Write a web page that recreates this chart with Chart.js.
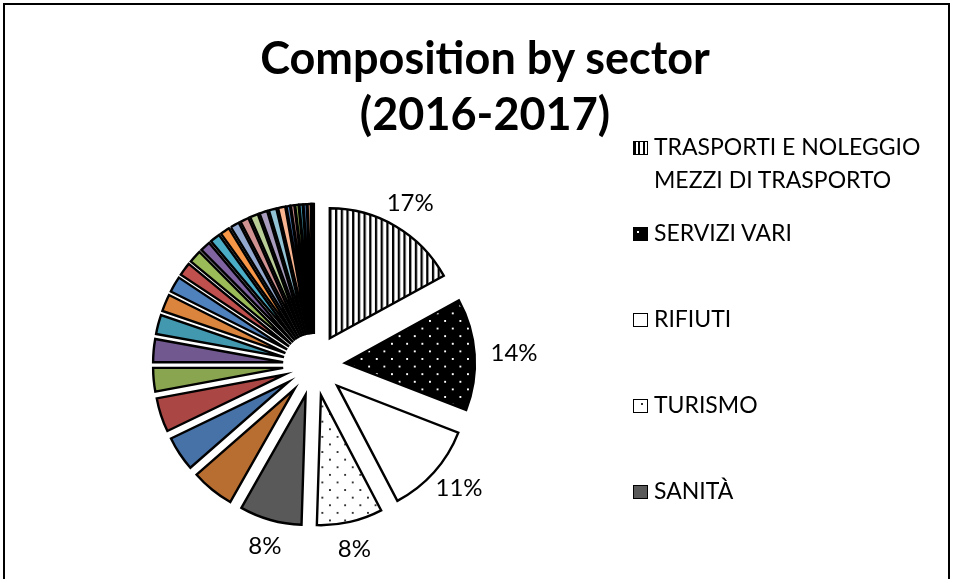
<!DOCTYPE html>
<html>
<head>
<meta charset="utf-8">
<script src="https://cdn.jsdelivr.net/npm/chart.js@4/dist/chart.umd.min.js"></script>
<style>
  html, body { margin: 0; padding: 0; background: #fff; }
  #wrap { position: relative; width: 953px; height: 579px; overflow: hidden; }
  #frame { position: absolute; left: 3px; top: 3px; width: 947px; height: 640px; border: 2px solid #000; box-sizing: border-box; }
  #chart { position: absolute; left: 0; top: 0; }
  #title { position: absolute; left: 0; top: 29px; width: 970px; text-align: center;
           font-family: Lato, "Open Sans", sans-serif; font-weight: bold; font-size: 45px; line-height: 56px; color: #000; }
  #legend { position: absolute; left: 633px; top: 130px; width: 300px;
            font-family: Lato, "Open Sans", sans-serif; font-size: 23px; line-height: 33px; color: #000; }
  .item { position: relative; padding-left: 21px; }
  .item + .item { margin-top: 53px; }
  .item:nth-child(2) { margin-top: 20px; }
  .box { position: absolute; left: 0; top: 11px; width: 15px; height: 14px; border: 1.5px solid #000; box-sizing: border-box; }
</style>
</head>
<body>
<div id="wrap">
  <canvas id="chart" width="953" height="579"></canvas>
  <div id="frame"></div>
  <div id="title"></div>
  <div id="legend"></div>
</div>
<script>
// ---- data ----
const categories = ['TRASPORTI E NOLEGGIO MEZZI DI TRASPORTO', 'SERVIZI VARI', 'RIFIUTI', 'TURISMO', 'SANITÀ'];
const shares = [17.0, 13.89, 11.44, 8.17, 7.72];
// remaining (unnamed) sectors, clockwise after SANITÀ
const otherShares = [5.33, 4.31, 4.22, 2.92, 2.86, 2.39, 2.11, 1.97, 1.64, 1.58, 1.28, 1.25, 1.17,
                     1.11, 1.06, 1.00, 0.97, 0.94, 0.89,
                     0.44, 0.43, 0.42, 0.41, 0.40, 0.40, 0.15, 0.13];
const titleLines = ['Composition by sector', '(2016-2017)'];

const values = shares.concat(otherShares);
const labels = categories.concat(otherShares.map(() => ''));

// ---- styles ----
const EXPLODE = 31;
const RADIUS = 130;
function makePattern(w, h, drawFn, scale) {
  const c = document.createElement('canvas');
  c.width = w; c.height = h;
  const g = c.getContext('2d');
  drawFn(g);
  const p = document.getElementById('chart').getContext('2d').createPattern(c, 'repeat');
  if (scale && p.setTransform) p.setTransform(new DOMMatrix().scale(scale));
  return p;
}
const stripes = makePattern(6, 6, g => {
  g.fillStyle = '#fff'; g.fillRect(0, 0, 6, 6);
  g.fillStyle = '#000'; g.fillRect(0, 0, 2.4, 6);
}, 0.95);
const darkDots = makePattern(16, 16, g => {
  g.fillStyle = '#000'; g.fillRect(0, 0, 16, 16);
  g.fillStyle = '#fff';
  g.fillRect(3, 3, 2, 2); g.fillRect(11, 11, 2, 2);
}, 0.95);
const lightDots = makePattern(16, 16, g => {
  g.fillStyle = '#fff'; g.fillRect(0, 0, 16, 16);
  g.fillStyle = '#333';
  g.fillRect(3, 3, 2, 2); g.fillRect(11, 11, 2, 2);
}, 0.95);

const mainFills = [stripes, darkDots, '#FFFFFF', lightDots, '#595959'];
const otherFills = ['#B86E31', '#4672A7', '#AA4744', '#89A54F', '#71588F', '#4298AF', '#DA843E',
                    '#4F81BD', '#C0504D', '#9BBB59', '#8064A2', '#4BACC6', '#F79646',
                    '#93A9CF', '#D19392', '#B9CD96', '#A99BBD', '#91C3D5', '#F9B590',
                    '#4F81BD', '#D19392', '#9BBB59', '#4BACC6', '#4F81BD', '#F9B590',
                    '#93A9CF', '#C0504D'];
const fills = mainFills.concat(otherFills);

// exploded slices: translate every arc outward along its bisector
const baseArcDraw = Chart.ArcElement.prototype.draw;
Chart.ArcElement.prototype.draw = function (ctx) {
  const mid = (this.startAngle + this.endAngle) / 2;
  ctx.save();
  ctx.translate(Math.cos(mid) * EXPLODE, Math.sin(mid) * EXPLODE);
  baseArcDraw.call(this, ctx);
  ctx.restore();
};

const pctLabels = {
  id: 'pctLabels',
  afterDatasetsDraw(chart) {
    const meta = chart.getDatasetMeta(0);
    const ctx = chart.ctx;
    const total = values.reduce((a, b) => a + b, 0);
    ctx.save();
    ctx.font = '24px Lato, "Open Sans", sans-serif';
    ctx.fillStyle = '#000';
    ctx.textAlign = 'center';
    ctx.textBaseline = 'middle';
    for (let i = 0; i < categories.length; i++) {
      const arc = meta.data[i];
      const mid = (arc.startAngle + arc.endAngle) / 2;
      const txt = Math.round(values[i] / total * 100) + '%';
      const w = ctx.measureText(txt).width;
      const h = 24;
      const ux = Math.cos(mid), uy = Math.sin(mid);
      const R = arc.outerRadius + EXPLODE + 16;
      ctx.fillText(txt, arc.x + ux * (R + w / 2 * Math.abs(ux)), arc.y + uy * (R + h / 2 * Math.abs(uy)));
    }
    ctx.restore();
  }
};

new Chart(document.getElementById('chart'), {
  type: 'pie',
  data: {
    labels: labels,
    datasets: [{
      data: values,
      backgroundColor: fills,
      borderColor: '#000',
      borderWidth: 2.4,
      borderJoinStyle: 'miter'
    }]
  },
  options: {
    responsive: false,
    animation: false,
    devicePixelRatio: 1,
    radius: RADIUS,
    layout: { padding: { left: 0, right: 325, top: 151, bottom: 0 } },
    plugins: { legend: { display: false }, title: { display: false }, tooltip: { enabled: false } }
  },
  plugins: [pctLabels]
});

// legend (first five sectors, as in the original)
const legendSwatches = [
  'background: repeating-linear-gradient(90deg, #000 0 2px, #fff 2px 4.5px);',
  'background: #000 radial-gradient(circle at 4px 4px, #fff 1px, transparent 1.2px);',
  'background: #fff;',
  'background: #fff radial-gradient(circle at 8px 4px, #333 0.8px, transparent 1px);',
  'background: #595959;'
];
const legendEl = document.getElementById('legend');
categories.forEach((name, i) => {
  const item = document.createElement('div');
  item.className = 'item';
  const box = document.createElement('span');
  box.className = 'box';
  box.style.cssText = legendSwatches[i];
  item.appendChild(box);
  item.appendChild(document.createTextNode(name));
  legendEl.appendChild(item);
});
document.getElementById('title').innerHTML = titleLines.join('<br>');
</script>
</body>
</html>
